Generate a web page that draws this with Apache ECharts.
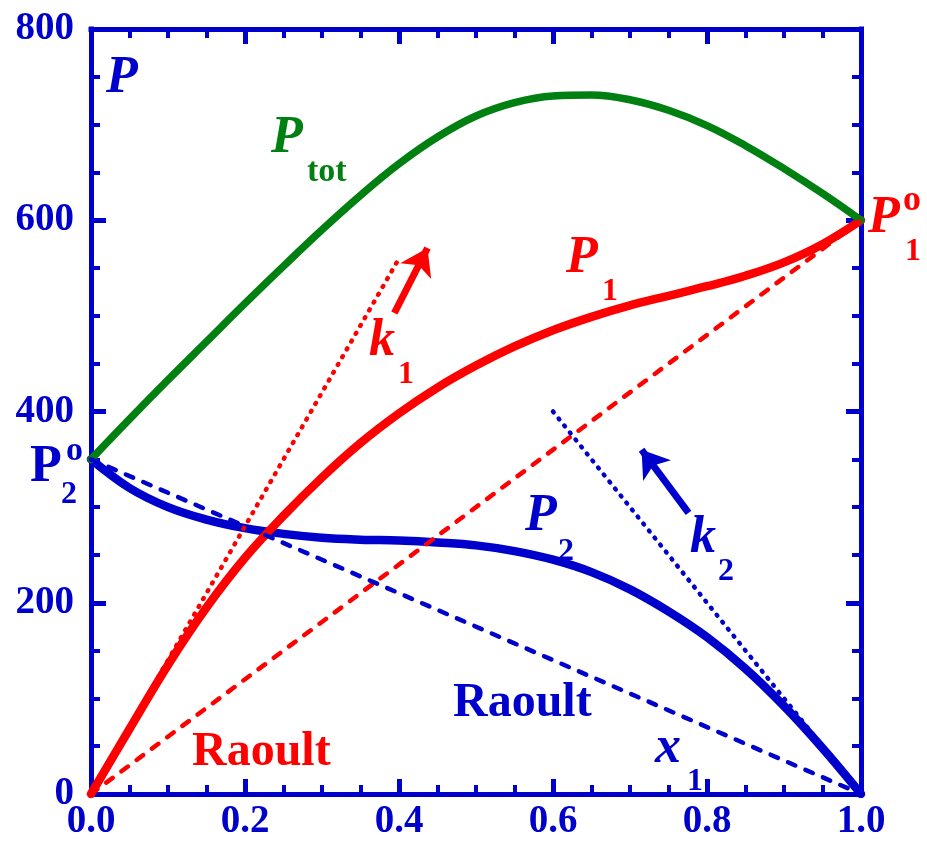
<!DOCTYPE html>
<html>
<head>
<meta charset="utf-8">
<script src="https://cdn.jsdelivr.net/npm/echarts@6/dist/echarts.min.js"></script>
<style>
  html, body { margin: 0; padding: 0; background: #fff; }
  #chart { width: 927px; height: 846px; }
</style>
</head>
<body>
<div id="chart"></div>
<script>
// mole fraction x1
var x1 = [0, 0.05, 0.1, 0.15, 0.2, 0.25, 0.3, 0.35, 0.4, 0.45, 0.5,
          0.55, 0.6, 0.65, 0.7, 0.75, 0.8, 0.85, 0.9, 0.95, 1.0];
// partial / total pressures
var p1   = [0, 68, 135, 195, 247, 291, 331, 367, 398, 425, 448, 468, 485, 499, 511, 521, 531, 542, 556, 575, 600];
var p2   = [350, 320, 300, 287, 278, 272, 268, 266, 265, 263, 260, 254, 245, 232, 214, 191, 164, 131, 92, 48, 0];
var ptot = [350, 392, 433, 473, 513, 552, 590, 626, 659, 687, 709, 723, 730, 731, 726, 715, 699, 678, 654, 628, 600];
// straight lines
var raoult1 = [[0, 0], [1, 600]];
var raoult2 = [[0, 350], [1, 0]];
var k1Line = [[0, 0], [0.4, 560]];
var k2Line = [[0.6, 400], [1, 0]];
var arrow1 = [[0.394, 503], [0.437, 571]];
var arrow2 = [[0.776, 294], [0.715, 360]];
var xTicks = { min: 0, max: 1, interval: 0.2 };
var yTicks = { min: 0, max: 800, interval: 200 };

var BLUE = '#0000CC', RED = '#FF0000', GREEN = '#008010';
var FONT = '"Liberation Serif", "Times New Roman", serif';

function pairs(xs, ys) {
  return xs.map(function (x, i) { return [x, ys[i]]; });
}

function axis(pos, ticks, showLabel) {
  return {
    type: 'value',
    position: pos,
    min: ticks.min, max: ticks.max, interval: ticks.interval,
    axisLine: { show: true, onZero: false, lineStyle: { color: BLUE, width: 5, cap: 'square' } },
    axisTick: { show: true, inside: true, length: 15, lineStyle: { color: BLUE, width: 5 } },
    minorTick: { show: true, splitNumber: 4, length: 9, lineStyle: { color: BLUE, width: 4 } },
    splitLine: { show: false },
    minorSplitLine: { show: false },
    axisLabel: {
      show: showLabel,
      showMinLabel: true, showMaxLabel: true,
      margin: (pos === 'left') ? 17 : 8,
      color: BLUE, fontFamily: FONT, fontWeight: 'bold', fontSize: 39,
      formatter: function (v) { return (pos === 'bottom') ? v.toFixed(1) : String(v); }
    }
  };
}

function line(data, color, width, type, z) {
  return {
    type: 'line', data: data, showSymbol: false, symbol: 'none',
    smooth: type === 'solid' ? 0.4 : false,
    lineStyle: { color: color, width: width, type: type, cap: 'round', join: 'round' },
    z: z, silent: true, animation: false
  };
}

function arrow(data, color) {
  return {
    type: 'lines', coordinateSystem: 'cartesian2d', animation: false, silent: true,
    symbol: ['none', 'arrow'], symbolSize: [24, 26],
    lineStyle: { color: color, width: 7, opacity: 1, curveness: 0 },
    data: [{ coords: data }], z: 6
  };
}

function txt(str, x, y, size, color, italic) {
  return {
    type: 'text', x: x, y: y, silent: true, z: 100,
    style: {
      text: str, fill: color,
      font: (italic ? 'italic ' : '') + 'bold ' + size + 'px ' + FONT,
      textAlign: 'left', textVerticalAlign: 'middle',
      align: 'left', verticalAlign: 'middle'
    }
  };
}

var chart = echarts.init(document.getElementById('chart'), null, { renderer: 'canvas' });
var option = {
  animation: false,
  backgroundColor: '#fff',
  grid: { left: 91, right: 66, top: 29, bottom: 52 },
  xAxis: [axis('bottom', xTicks, true), axis('top', xTicks, false)],
  yAxis: [axis('left', yTicks, true), axis('right', yTicks, false)],
  series: [
    line(raoult1, RED, 4.5, [8, 11], 4),
    line(raoult2, BLUE, 4.5, [8, 11], 4),
    line(k1Line, RED, 4.5, [1, 8], 4),
    line(k2Line, BLUE, 4.5, [1, 8], 4),
    line(pairs(x1, p2), BLUE, 8.5, 'solid', 3),
    line(pairs(x1, p1), RED, 8.5, 'solid', 3),
    line(pairs(x1, ptot), GREEN, 7.5, 'solid', 3),
    arrow(arrow1, RED),
    arrow(arrow2, BLUE)
  ],
  graphic: [
    txt('P', 106, 79, 52, BLUE, true),
    txt('P', 271, 139, 52, GREEN, true),
    txt('tot', 307, 172, 34, GREEN, false),
    txt('P', 566, 259, 52, RED, true),
    txt('1', 602, 292, 32, RED, false),
    txt('k', 369, 342, 52, RED, true),
    txt('1', 398, 375, 32, RED, false),
    txt('P', 868, 219, 52, RED, true),
    txt('o', 903, 201, 36, RED, false),
    txt('1', 905, 252, 32, RED, false),
    txt('P', 30, 468, 52, BLUE, false),
    txt('o', 66, 451, 34, BLUE, false),
    txt('2', 61, 495, 32, BLUE, false),
    txt('P', 525, 517, 52, BLUE, true),
    txt('2', 558, 552, 32, BLUE, false),
    txt('k', 690, 539, 52, BLUE, true),
    txt('2', 718, 572, 32, BLUE, false),
    txt('Raoult', 192, 753, 48, RED, false),
    txt('Raoult', 453, 704, 48, BLUE, false),
    txt('x', 655, 749, 52, BLUE, true),
    txt('1', 687, 782, 32, BLUE, false)
  ]
};
chart.setOption(option);
</script>
</body>
</html>
